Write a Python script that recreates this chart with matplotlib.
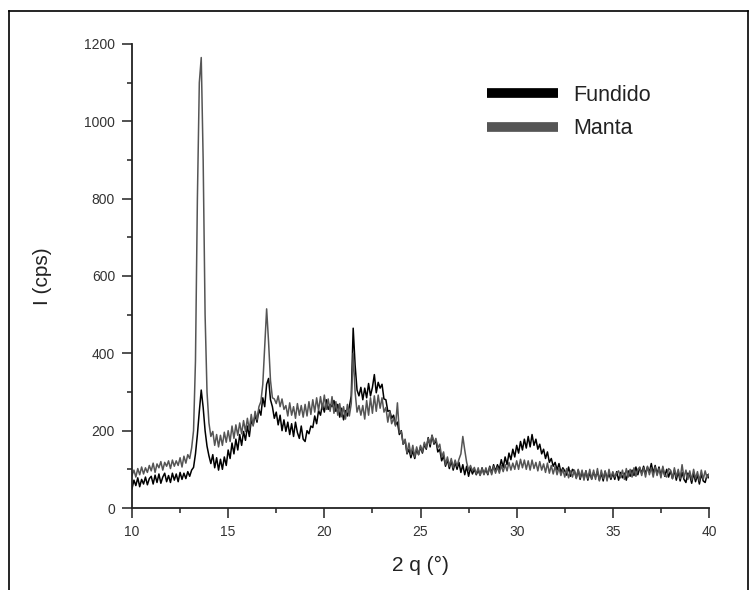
import numpy as np
import matplotlib
matplotlib.use("Agg")
import matplotlib.pyplot as plt
from matplotlib.lines import Line2D

plt.rcParams['font.family'] = ['Liberation Sans', 'DejaVu Sans']

# 2-theta scan positions (degrees), 0.1 deg step
two_theta = np.round(np.linspace(10, 40, 301), 1)

fundido = [
    50, 72, 58, 78, 55, 74, 62, 80, 60, 76,
    82, 62, 85, 66, 88, 64, 80, 90, 68, 84,
    66, 90, 72, 88, 68, 92, 74, 90, 76, 94,
    82, 98, 105, 140, 190, 250, 305, 260, 200, 160,
    135, 115, 138, 104, 130, 98, 126, 100, 132, 110,
    150, 128, 168, 140, 178, 150, 190, 162, 198, 175,
    212, 185, 226, 215, 240, 222, 255, 240, 285, 262,
    320, 335, 280, 262, 232, 248, 215, 240, 200, 228,
    198, 222, 190, 218, 185, 222, 195, 180, 212, 178,
    172, 200, 192, 212, 208, 238, 218, 252, 240, 268,
    248, 280, 255, 268, 262, 278, 250, 268, 235, 258,
    228, 252, 238, 262, 290, 465, 370, 305, 290, 312,
    280, 310, 285, 322, 290, 312, 345, 298, 325, 310,
    320, 282, 280, 250, 252, 232, 240, 215, 222, 190,
    200, 165, 175, 140, 152, 130, 148, 128, 152, 138,
    158, 142, 165, 152, 182, 158, 188, 165, 175, 145,
    152, 122, 135, 108, 125, 102, 122, 98, 118, 100,
    118, 92, 112, 86, 108, 82, 104, 88, 100, 86,
    98, 85, 104, 88, 100, 86, 108, 90, 112, 95,
    112, 100, 125, 105, 132, 112, 142, 125, 152, 132,
    162, 142, 172, 150, 178, 155, 185, 158, 190, 162,
    178, 152, 165, 140, 152, 128, 145, 118, 128, 108,
    118, 98, 115, 92, 104, 96, 85, 106, 82, 100,
    96, 78, 98, 74, 94, 76, 96, 72, 92, 75,
    92, 80, 94, 72, 90, 70, 95, 76, 88, 74,
    90, 74, 94, 72, 92, 78, 90, 72, 96, 82,
    98, 84, 106, 86, 104, 90, 108, 88, 106, 92,
    115, 90, 110, 88, 106, 84, 104, 82, 100, 80,
    96, 76, 98, 72, 94, 70, 92, 74, 66, 90,
    84, 64, 90, 68, 86, 62, 88, 70, 66, 86,
    78,
]

manta = [
    84, 98, 80, 102, 86, 106, 88, 104, 92, 110,
    96, 116, 92, 114, 104, 120, 98, 118, 108, 122,
    102, 124, 108, 122, 110, 130, 106, 134, 116, 138,
    128, 155, 200, 380, 800, 1100, 1165, 900, 500, 300,
    220, 185, 198, 162, 190, 158, 188, 162, 196, 170,
    200, 172, 212, 180, 215, 188, 220, 192, 226, 198,
    232, 202, 242, 212, 250, 228, 262, 275, 320, 420,
    515, 430, 330, 285, 282, 270, 290, 262, 282, 255,
    265, 238, 272, 240, 262, 232, 270, 240, 265, 235,
    268, 238, 275, 242, 280, 248, 285, 252, 288, 256,
    292, 255, 282, 250, 288, 245, 275, 240, 270, 236,
    262, 230, 268, 238, 270, 400, 300, 248, 265, 240,
    265, 230, 278, 240, 285, 245, 290, 250, 292, 258,
    285, 248, 260, 222, 250, 218, 232, 212, 272, 195,
    198, 165, 178, 142, 168, 138, 162, 132, 158, 138,
    162, 145, 170, 155, 180, 165, 188, 168, 180, 155,
    165, 132, 145, 112, 132, 108, 128, 104, 124, 108,
    126, 140, 185, 150, 118, 98, 110, 96, 105, 88,
    104, 84, 102, 86, 104, 88, 106, 86, 108, 90,
    106, 90, 110, 94, 112, 96, 118, 98, 116, 100,
    122, 100, 126, 104, 124, 100, 122, 98, 124, 102,
    118, 96, 120, 98, 114, 92, 116, 90, 110, 88,
    108, 86, 104, 84, 100, 80, 102, 78, 96, 80,
    98, 76, 100, 78, 98, 72, 96, 76, 100, 74,
    98, 74, 102, 70, 98, 76, 96, 70, 100, 78,
    94, 80, 90, 96, 78, 98, 74, 102, 80, 100,
    80, 104, 82, 100, 106, 84, 104, 80, 108, 86,
    104, 80, 106, 84, 102, 78, 108, 84, 80, 102,
    98, 76, 104, 80, 100, 76, 112, 78, 98, 74,
    96, 72, 100, 76, 94, 70, 98, 74, 96, 78,
    88,
]

series_names = ["Fundido", "Manta"]
x_ticks = [10, 15, 20, 25, 30, 35, 40]
y_ticks = [0, 200, 400, 600, 800, 1000, 1200]

W, H = 753, 590
fig = plt.figure(figsize=(W / 100, H / 100), dpi=100)
ax = fig.add_axes([132 / W, 1 - 508 / H, (709 - 132) / W, (508 - 44) / H])

ax.plot(two_theta, fundido, color="#000000", lw=1.1, label=series_names[0])
ax.plot(two_theta, manta, color="#555555", lw=1.1, label=series_names[1])

ax.set_xlim(10, 40)
ax.set_ylim(0, 1200)
ax.set_xticks(x_ticks)
ax.set_yticks(y_ticks)
ax.set_xticks(np.arange(12.5, 40, 5), minor=True)
ax.set_yticks(np.arange(100, 1200, 200), minor=True)

for s in ["top", "right"]:
    ax.spines[s].set_visible(False)
for s in ["left", "bottom"]:
    ax.spines[s].set_linewidth(1.3)
    ax.spines[s].set_color("#222222")

ax.tick_params(which="major", direction="out", length=7.2, width=1.1, color="#222222",
               labelsize=10, labelcolor="#333333", pad=5)
ax.tick_params(which="minor", direction="out", length=3.8, width=1.1, color="#222222")

ax.set_xlabel("2 q (°)", fontsize=15, color="#222222", labelpad=12)
ax.set_ylabel("I (cps)", fontsize=15, color="#222222", labelpad=23)

leg = ax.legend(loc="upper left", bbox_to_anchor=(0.615, 0.912), frameon=False,
                fontsize=15.5, handlelength=3.3, handletextpad=0.7,
                labelspacing=0.58, borderpad=0, borderaxespad=0)
for h in leg.legend_handles:
    h.set_linewidth(7)
    h.set_solid_capstyle("butt")
for t in leg.get_texts():
    t.set_color("#222222")

# outer frame (left, top, right edges)
fig.add_artist(Line2D([8.5 / W, 8.5 / W], [0, 1 - 11 / H], transform=fig.transFigure,
                      color="black", lw=1.2))
fig.add_artist(Line2D([8.5 / W, 748 / W], [1 - 11 / H, 1 - 11 / H], transform=fig.transFigure,
                      color="black", lw=1.2))
fig.add_artist(Line2D([748 / W, 748 / W], [0, 1 - 11 / H], transform=fig.transFigure,
                      color="black", lw=1.2))

fig.savefig("out.png", dpi=100)
